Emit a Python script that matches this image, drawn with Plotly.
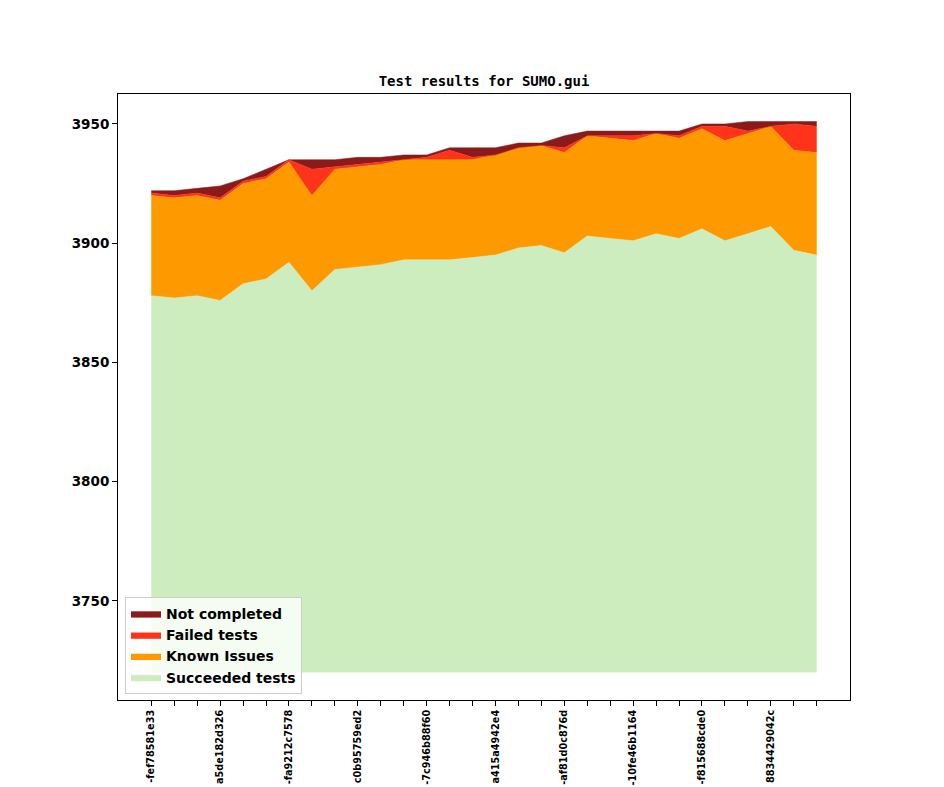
import plotly.graph_objects as go

# ---- data ----
succeeded = [3878, 3877, 3878, 3876, 3883, 3885, 3892, 3880, 3889, 3890,
             3891, 3893, 3893, 3893, 3894, 3895, 3898, 3899, 3896, 3903,
             3902, 3901, 3904, 3902, 3906, 3901, 3904, 3907, 3897, 3895]
known_issues = [42, 42, 42, 42, 42, 42, 42, 40, 42, 42,
                42, 42, 42, 42, 41, 42, 42, 42, 42, 42,
                42, 42, 42, 42, 42, 42, 42, 42, 42, 43]
failed = [1, 1, 1, 1, 1, 1, 1, 11, 1, 1,
          1, 0, 1, 4, 1, 0, 0, 0, 2, 0,
          1, 2, 0, 1, 1, 6, 1, 0, 11, 11]
not_completed = [1, 2, 2, 5, 1, 3, 0, 4, 3, 3,
                 2, 2, 1, 1, 4, 3, 2, 1, 5, 2,
                 2, 2, 1, 2, 1, 1, 4, 2, 1, 2]
baseline = 3720
tick_labels = ["-fef78581e33", "a5de182d326", "-fa9212c7578", "c0b95759ed2",
               "-7c946b88f60", "a415a4942e4", "-af81d0c876d", "-10fe46b1164",
               "-f815688cde0", "8834429042c"]
label_step = 3
y_ticks = [3750, 3800, 3850, 3900, 3950]

n = len(succeeded)
xs = list(range(n))

# cumulative tops
top_s = succeeded
top_k = [a + b for a, b in zip(top_s, known_issues)]
top_f = [a + b for a, b in zip(top_k, failed)]
top_n = [a + b for a, b in zip(top_f, not_completed)]

series = [
    ("Succeeded tests", top_s, "#ceedbf"),
    ("Known Issues", top_k, "#ff9900"),
    ("Failed tests", top_f, "#ff3319"),
    ("Not completed", top_n, "#8b1a1b"),
]

fig = go.Figure()
fig.add_trace(go.Scatter(x=xs, y=[baseline] * n, mode="lines",
                         line=dict(width=0), showlegend=False, hoverinfo="skip"))
for name, ys, col in series:
    fig.add_trace(go.Scatter(x=xs, y=ys, mode="lines", name=name,
                             fill="tonexty", fillcolor=col,
                             line=dict(width=0.5, color=col)))

ymin = baseline
ymax = max(top_n)
pad_y = (ymax - ymin) * 0.05
pad_x = (n - 1) * 0.05

tickvals = xs
ticktext = [tick_labels[i // label_step] if i % label_step == 0 and i // label_step < len(tick_labels) else ""
            for i in xs]

# page body has an 8px default margin
OFF = 8
W, H = 944 - OFF, 787 - OFF
L, R, T, B = 118 - OFF, 850 - OFF, 94 - OFF, 700 - OFF

fig.update_layout(
    width=W, height=H,
    margin=dict(l=L, r=W - R, t=T, b=H - B, autoexpand=False),
    paper_bgcolor="white", plot_bgcolor="white",
    font=dict(family="DejaVu Sans", color="black"),
    title=dict(text="<b>Test results for SUMO.gui</b>",
               font=dict(family="DejaVu Sans Mono", size=14, color="black"),
               x=(L + R) / 2 / W, xref="container", xanchor="center",
               y=1 - (81 - OFF) / H, yref="container", yanchor="middle"),
    showlegend=True,
    legend=dict(x=(125 - 118) / (R - L), y=(700 - 694) / (B - T),
                xanchor="left", yanchor="bottom",
                bgcolor="rgba(255,255,255,0.8)", bordercolor="#cccccc", borderwidth=1,
                font=dict(family="DejaVu Sans", size=14, weight="bold", color="black"),
                traceorder="reversed", itemwidth=30, tracegroupgap=0),
    xaxis=dict(range=[-pad_x, n - 1 + pad_x], tickmode="array",
               tickvals=tickvals, ticktext=ticktext, tickangle=-90,
               ticks="outside", ticklen=5, tickcolor="black",
               showline=True, linecolor="black", linewidth=1, mirror=True,
               showgrid=False, zeroline=False,
               tickfont=dict(family="DejaVu Sans", size=9.7, weight="bold", color="black")),
    yaxis=dict(range=[ymin - pad_y, ymax + pad_y], tickmode="array",
               tickvals=y_ticks, ticks="outside", ticklen=5, tickcolor="black",
               showline=True, linecolor="black", linewidth=1, mirror=True,
               showgrid=False, zeroline=False,
               tickfont=dict(family="DejaVu Sans", size=13.5, weight="bold", color="black")),
)

fig.write_html("out.html")
